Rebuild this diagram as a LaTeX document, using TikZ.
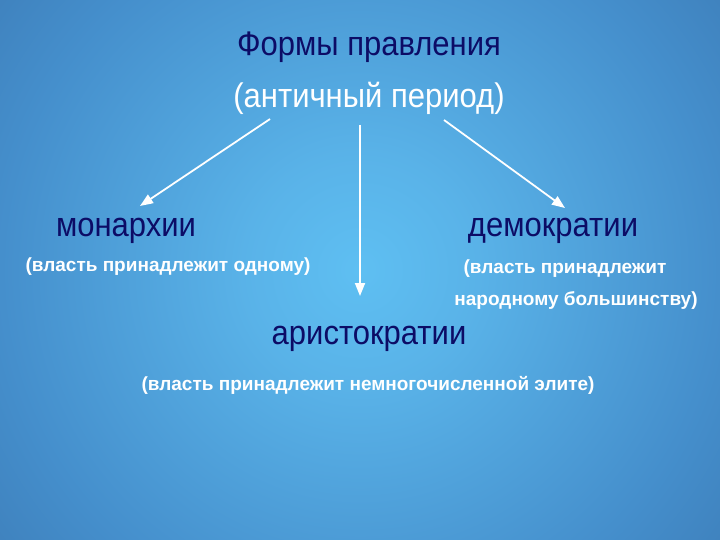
\documentclass[tikz,border=0pt]{standalone}
\usepackage{fontspec}
\setmainfont{Liberation Sans}
\usetikzlibrary{arrows.meta}
\definecolor{navy}{RGB}{12,12,102}
\pgfdeclareradialshading{bgshade}{\pgfpoint{0bp}{0bp}}{rgb(0bp)=(0.37,0.75,0.95); rgb(8bp)=(0.35,0.70,0.91); rgb(25bp)=(0.27,0.56,0.80); rgb(37bp)=(0.23,0.47,0.70); rgb(50bp)=(0.19,0.39,0.60); rgb(63bp)=(0.16,0.33,0.52); rgb(75bp)=(0.14,0.29,0.46)}
\newcommand{\tallt}[1]{\scalebox{1}[1.1]{#1}}
\tikzset{
  big/.style={font=\fontsize{31}{36}\selectfont},
  sub/.style={font=\bfseries\fontsize{19}{22}\selectfont, text=white},
  arr/.style={draw=white, line width=1.8pt, -{Triangle[length=13pt,width=10pt]}}
}
\begin{document}
\begin{tikzpicture}[x=1pt,y=-1pt]
\useasboundingbox (0,0) rectangle (720,540);
\begin{scope}
\clip (0,0) rectangle (720,540);
\shade[shading=bgshade] (0,-90) rectangle (720,630);
\end{scope}
\node[big, text=navy] (title) at (369,47) {\tallt{Формы правления}};
\node[big, text=white] (period) at (369,98) {\tallt{(античный период)}};
\node[big, text=navy] (mon) at (126,231) {\tallt{монархии}};
\node[big, text=navy] (dem) at (553,231) {\tallt{демократии}};
\node[big, text=navy] (ari) at (369,339) {\tallt{аристократии}};
\node[sub] (monsub) at (168,267) {(власть принадлежит одному)};
\node[sub] (demsub1) at (565,269) {(власть принадлежит};
\node[sub] (demsub2) at (576,301) {народному большинству)};
\node[sub] (arisub) at (368,385) {(власть принадлежит немногочисленной элите)};
\coordinate (sL) at (270,119);
\coordinate (eL) at (140,206);
\coordinate (sM) at (360,125);
\coordinate (eM) at (360,296);
\coordinate (sR) at (444,120);
\coordinate (eR) at (565,208);
\draw[arr] (sL) -- (eL);
\draw[arr] (sM) -- (eM);
\draw[arr] (sR) -- (eR);
\end{tikzpicture}
\end{document}
